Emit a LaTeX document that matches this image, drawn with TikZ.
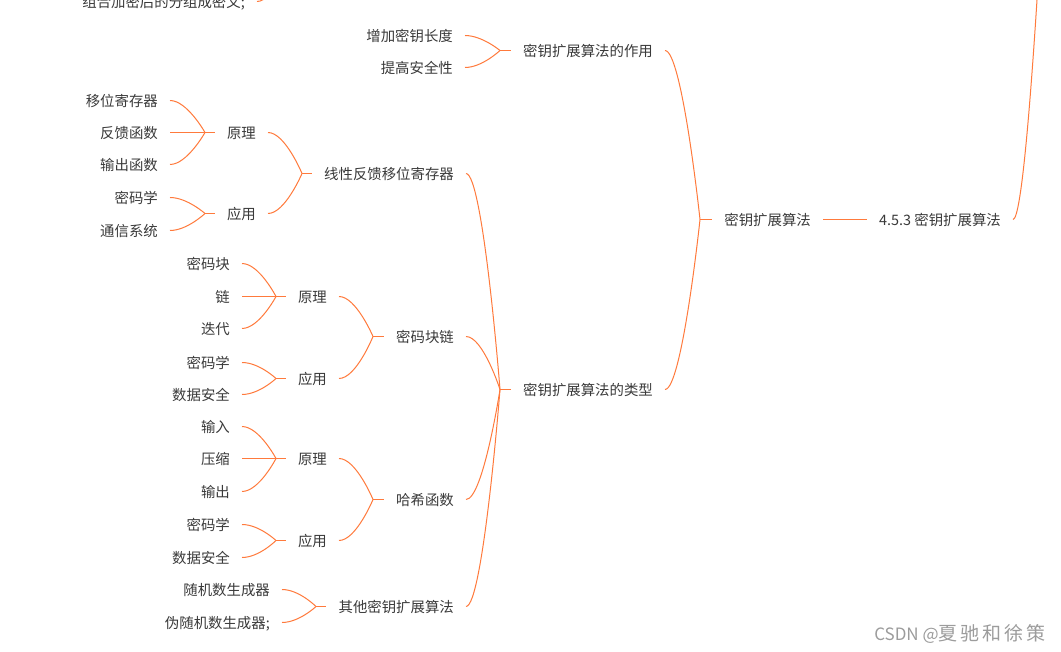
\documentclass[tikz,border=0pt]{standalone}
\usepackage{fontspec}
\setmainfont{Noto Sans CJK SC}
\newfontfamily\wmfont[LetterSpace=16]{Noto Sans CJK SC}
\definecolor{branchorange}{HTML}{FF7A3C}
\definecolor{labelgray}{HTML}{3A3A3A}
\definecolor{markgray}{HTML}{9C9C9C}
\tikzset{
  link/.style={branchorange, line width=1pt},
  branch/.style={to path={.. controls +(17,0) and (\tikztotarget) .. (\tikztotarget)}},
  topic/.style={text=labelgray, inner xsep=12pt, inner ysep=2pt, anchor=east,
    font=\fontsize{14.4}{16}\selectfont, text height=1.28em, text depth=0pt},
}
\begin{document}
\begin{tikzpicture}[x=1pt,y=-1pt]
\clip (0,0) rectangle (1061,652);
\fill[white] (0,0) rectangle (1061,652);
\begin{scope}[yshift=-0.5pt]

% oberer, abgeschnittener Zweig
\node[topic] (cut) at (257,1) {组合加密后的分组成密文;};
\coordinate (fCut) at (292,-45);
\draw[link] (cut.east) to[branch] (fCut);

% Wurzel
\node[topic] (root) at (1013,219) {4.5.3 密钥扩展算法};
\coordinate (fTop) at (1052,-280);
\draw[link] (root.east) to[branch] (fTop);

\node[topic] (algo) at (823,219) {密钥扩展算法};
\draw[link] (algo.east) -- (root.west);
\coordinate (fAlgo) at (700,219);
\draw[link] (fAlgo) -- (algo.west);

% Ebene: Wirkung / Typen
\node[topic] (effect) at (665,50) {密钥扩展算法的作用};
\node[topic] (types) at (665,389) {密钥扩展算法的类型};
\draw[link] (effect.east) to[branch] (fAlgo);
\draw[link] (types.east) to[branch] (fAlgo);

\coordinate (fEffect) at (500,50);
\draw[link] (fEffect) -- (effect.west);
\node[topic] (longer) at (465,35) {增加密钥长度};
\node[topic] (safer) at (465,67) {提高安全性};
\draw[link] (longer.east) to[branch] (fEffect);
\draw[link] (safer.east) to[branch] (fEffect);

\coordinate (fTypes) at (500,389);
\draw[link] (fTypes) -- (types.west);
\node[topic] (lfsr) at (466,173) {线性反馈移位寄存器};
\node[topic] (cbc) at (466,336) {密码块链};
\node[topic] (hash) at (466,499) {哈希函数};
\node[topic] (other) at (466,606) {其他密钥扩展算法};
\draw[link] (lfsr.east) to[branch] (fTypes);
\draw[link] (cbc.east) to[branch] (fTypes);
\draw[link] (hash.east) to[branch] (fTypes);
\draw[link] (other.east) to[branch] (fTypes);

% Schieberegister
\coordinate (fLfsr) at (302,173);
\draw[link] (fLfsr) -- (lfsr.west);
\node[topic] (lfsrIdea) at (268,132) {原理};
\node[topic] (lfsrUse) at (268,213) {应用};
\draw[link] (lfsrIdea.east) to[branch] (fLfsr);
\draw[link] (lfsrUse.east) to[branch] (fLfsr);

\coordinate (fLfsrIdea) at (205,132);
\draw[link] (fLfsrIdea) -- (lfsrIdea.west);
\node[topic] (shift) at (170,100) {移位寄存器};
\node[topic] (feedback) at (170,132) {反馈函数};
\node[topic] (outfun) at (170,164) {输出函数};
\draw[link] (shift.east) to[branch] (fLfsrIdea);
\draw[link] (feedback.east) to[branch] (fLfsrIdea);
\draw[link] (outfun.east) to[branch] (fLfsrIdea);

\coordinate (fLfsrUse) at (205,213);
\draw[link] (fLfsrUse) -- (lfsrUse.west);
\node[topic] (crypto1) at (170,197) {密码学};
\node[topic] (comm) at (170,230) {通信系统};
\draw[link] (crypto1.east) to[branch] (fLfsrUse);
\draw[link] (comm.east) to[branch] (fLfsrUse);

% Blockverkettung
\coordinate (fCbc) at (373,336);
\draw[link] (fCbc) -- (cbc.west);
\node[topic] (cbcIdea) at (339,296) {原理};
\node[topic] (cbcUse) at (339,378) {应用};
\draw[link] (cbcIdea.east) to[branch] (fCbc);
\draw[link] (cbcUse.east) to[branch] (fCbc);

\coordinate (fCbcIdea) at (276,296);
\draw[link] (fCbcIdea) -- (cbcIdea.west);
\node[topic] (block) at (242,263) {密码块};
\node[topic] (chain) at (242,296) {链};
\node[topic] (iterate) at (242,328) {迭代};
\draw[link] (block.east) to[branch] (fCbcIdea);
\draw[link] (chain.east) to[branch] (fCbcIdea);
\draw[link] (iterate.east) to[branch] (fCbcIdea);

\coordinate (fCbcUse) at (276,378);
\draw[link] (fCbcUse) -- (cbcUse.west);
\node[topic] (crypto2) at (242,362) {密码学};
\node[topic] (datasec1) at (242,394) {数据安全};
\draw[link] (crypto2.east) to[branch] (fCbcUse);
\draw[link] (datasec1.east) to[branch] (fCbcUse);

% Hashfunktion
\coordinate (fHash) at (373,499);
\draw[link] (fHash) -- (hash.west);
\node[topic] (hashIdea) at (339,458) {原理};
\node[topic] (hashUse) at (339,540) {应用};
\draw[link] (hashIdea.east) to[branch] (fHash);
\draw[link] (hashUse.east) to[branch] (fHash);

\coordinate (fHashIdea) at (276,458);
\draw[link] (fHashIdea) -- (hashIdea.west);
\node[topic] (input) at (242,426) {输入};
\node[topic] (compress) at (242,458) {压缩};
\node[topic] (output) at (242,491) {输出};
\draw[link] (input.east) to[branch] (fHashIdea);
\draw[link] (compress.east) to[branch] (fHashIdea);
\draw[link] (output.east) to[branch] (fHashIdea);

\coordinate (fHashUse) at (276,540);
\draw[link] (fHashUse) -- (hashUse.west);
\node[topic] (crypto3) at (242,524) {密码学};
\node[topic] (datasec2) at (242,557) {数据安全};
\draw[link] (crypto3.east) to[branch] (fHashUse);
\draw[link] (datasec2.east) to[branch] (fHashUse);

% sonstige Verfahren
\coordinate (fOther) at (316,606);
\draw[link] (fOther) -- (other.west);
\node[topic] (rng) at (282,589) {随机数生成器};
\node[topic] (prng) at (282,622) {伪随机数生成器;};
\draw[link] (rng.east) to[branch] (fOther);
\draw[link] (prng.east) to[branch] (fOther);

% Wasserzeichen
\node[text=markgray, anchor=east, inner sep=0pt] (mark) at (1046,633)
  {\fontsize{17}{18}\selectfont CSDN @\wmfont\fontsize{19}{20}\selectfont 夏驰和徐策};

\end{scope}
\end{tikzpicture}
\end{document}
